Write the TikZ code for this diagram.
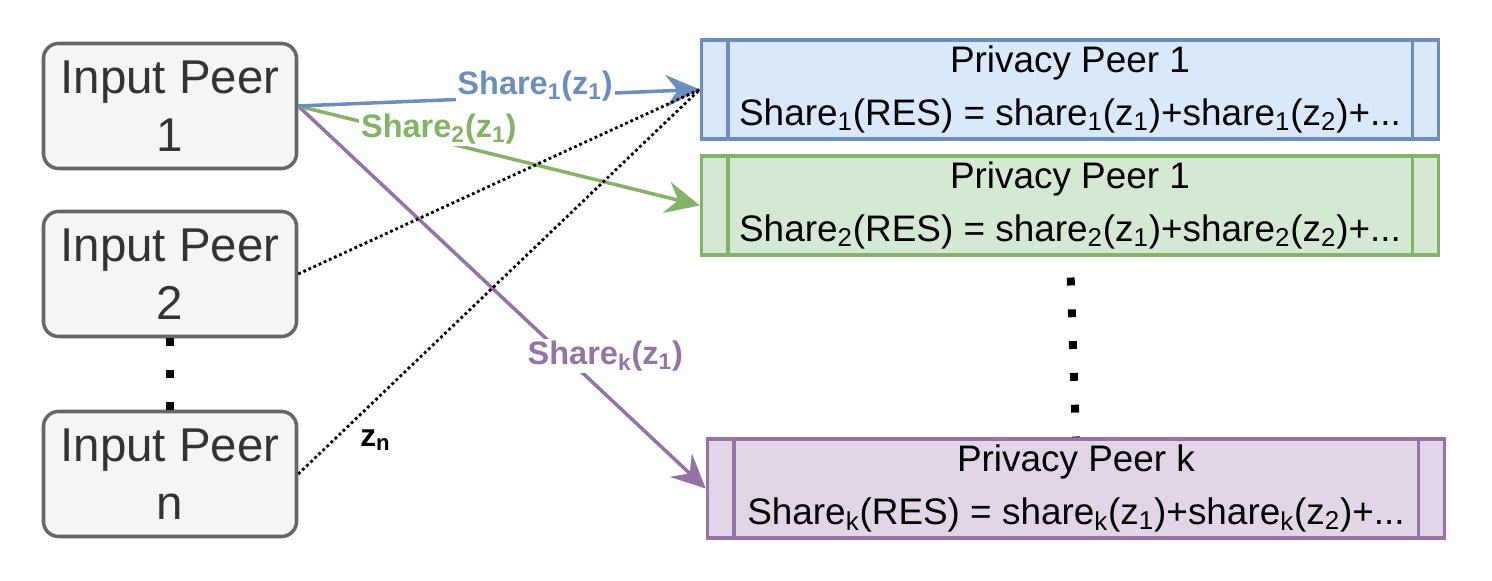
\documentclass[tikz,border=0pt]{standalone}
\usepackage{fontspec}
\setmainfont{Liberation Sans}
\usepackage[HTML]{xcolor}
\usepackage{tikz}
\usetikzlibrary{positioning, arrows.meta}

\definecolor{blueline}{HTML}{6C8EBF}
\definecolor{bluefill}{HTML}{DAE8FC}
\definecolor{greenline}{HTML}{82B366}
\definecolor{greenfill}{HTML}{D5E8D4}
\definecolor{purpleline}{HTML}{9673A6}
\definecolor{purplefill}{HTML}{E1D5E7}
\definecolor{peerline}{HTML}{666666}
\definecolor{peerfill}{HTML}{F5F5F5}
\definecolor{peertext}{HTML}{333333}

\tikzset{
  inpeer/.style={draw=peerline, fill=peerfill, line width=2pt, rounded corners=0.3cm,
    minimum width=5.06cm, minimum height=2.5cm, align=center, text=peertext,
    font=\fontsize{27}{33}\selectfont},
  privpeer/.style={line width=2pt, minimum width=14.74cm, minimum height=1.9cm,
    align=center, font=\fontsize{21}{30}\selectfont},
  share/.style={line width=2pt, -{Stealth[length=0.68cm, width=0.64cm, inset=0.24cm]}},
  sharelbl/.style={fill=white, inner sep=1pt, font=\bfseries\fontsize{18.5}{20}\selectfont},
  fine/.style={line width=1.6pt, dash pattern=on 1.6pt off 1.6pt},
  gap/.style={line width=4.5pt, dash pattern=on 4.5pt off 13.6pt},
}

\begin{document}
\begin{tikzpicture}
\useasboundingbox (0,0) rectangle (29.84,11.6);

\node[inpeer] (IP1) at (3.4,9.48) {Input Peer\\1};
\node[inpeer] (IP2) at (3.4,6.12) {Input Peer\\2};
\node[inpeer] (IPn) at (3.4,2.12) {Input Peer\\n};

\node[privpeer, draw=blueline, fill=bluefill] (PP1) at (21.4,9.81)
  {Privacy Peer 1\\Share\textsubscript{1}(RES) = share\textsubscript{1}(z\textsubscript{1})+share\textsubscript{1}(z\textsubscript{2})+...};
\node[privpeer, draw=greenline, fill=greenfill] (PP2) at (21.4,7.49)
  {Privacy Peer 1\\Share\textsubscript{2}(RES) = share\textsubscript{2}(z\textsubscript{1})+share\textsubscript{2}(z\textsubscript{2})+...};
\node[privpeer, draw=purpleline, fill=purplefill, minimum height=1.94cm] (PPk) at (21.52,1.83)
  {Privacy Peer k\\Share\textsubscript{k}(RES) = share\textsubscript{k}(z\textsubscript{1})+share\textsubscript{k}(z\textsubscript{2})+...};

% side bars of the privacy peers
\foreach \p/\c in {PP1/blueline, PP2/greenline, PPk/purpleline}{
  \draw[\c, line width=2pt] ([xshift=0.56cm]\p.north west) -- ([xshift=0.56cm]\p.south west);
  \draw[\c, line width=2pt] ([xshift=-0.56cm]\p.north east) -- ([xshift=-0.56cm]\p.south east);
}

\draw[gap] (IP2.south) -- (IPn.north);
\draw[gap, dash phase=6.2pt] (PP2.south) -- (PPk.north);

\draw[share, purpleline] (IP1.east) -- (PPk.west)
  node[sharelbl, pos=0.68, xshift=0.6cm, yshift=0.2cm] {Share\textsubscript{k}(z\textsubscript{1})};
\draw[share, greenline] (IP1.east) -- (PP2.west)
  node[sharelbl, pos=0.35, yshift=0.24cm] {Share\textsubscript{2}(z\textsubscript{1})};
\draw[share, blueline] (IP1.east) -- (PP1.west)
  node[sharelbl, pos=0.59, yshift=0.2cm] {Share\textsubscript{1}(z\textsubscript{1})};

\draw[fine] (IP2.east) -- (PP1.west);
\draw[fine] (IPn.east) -- (PP1.west)
  node[pos=0.1, xshift=0.74cm, yshift=-0.09cm, font=\bfseries\fontsize{18}{20}\selectfont] {z\textsubscript{n}};
\end{tikzpicture}
\end{document}
